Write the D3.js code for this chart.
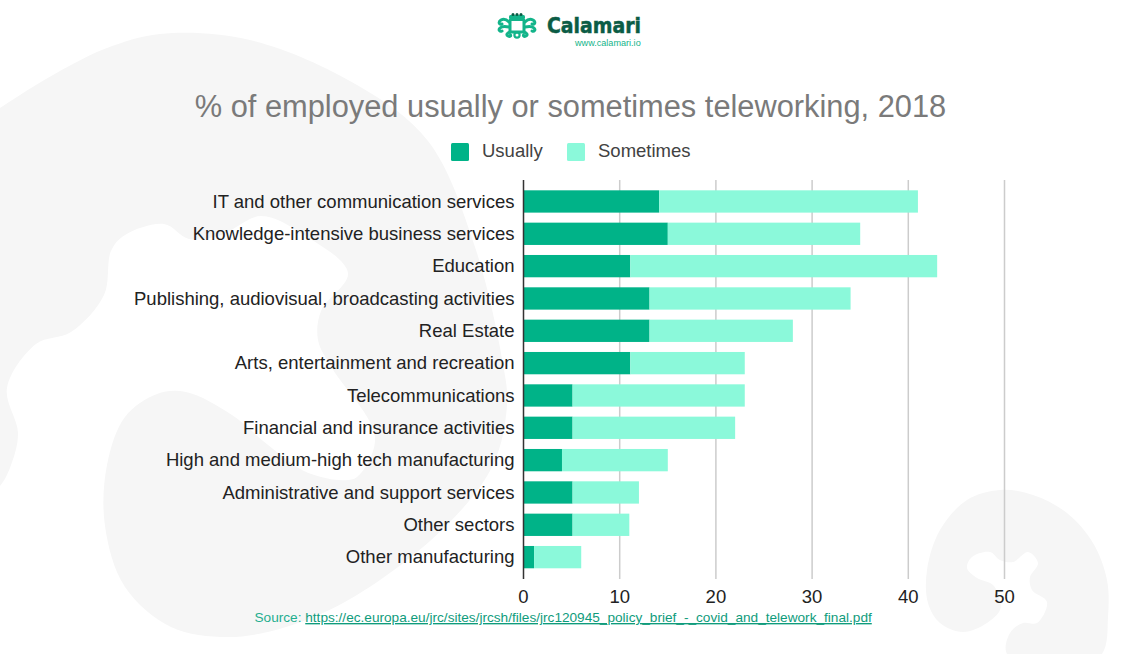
<!DOCTYPE html>
<html>
<head>
<meta charset="utf-8">
<script src="https://cdn.jsdelivr.net/npm/d3@7"></script>
<style>
  html, body { margin: 0; padding: 0; background: #fff; overflow: hidden; }
  svg { display: block; font-family: "Liberation Sans", Arial, sans-serif; }
</style>
</head>
<body>
<svg id="chart" width="1123" height="654"></svg>
<script>
const categories = [
  "IT and other communication services",
  "Knowledge-intensive business services",
  "Education",
  "Publishing, audiovisual, broadcasting activities",
  "Real Estate",
  "Arts, entertainment and recreation",
  "Telecommunications",
  "Financial and insurance activities",
  "High and medium-high tech manufacturing",
  "Administrative and support services",
  "Other sectors",
  "Other manufacturing"
];
const usually = [14.1, 15, 11.1, 13.1, 13.1, 11.1, 5.1, 5.1, 4, 5.1, 5.1, 1.1];
const sometimes = [26.9, 20, 31.9, 20.9, 14.9, 11.9, 17.9, 16.9, 11, 6.9, 5.9, 4.9];
const xTicks = [0, 10, 20, 30, 40, 50];
const seriesNames = ["Usually", "Sometimes"];
const seriesColors = ["#00b388", "#8bf9da"];

const svg = d3.select("#chart");

// decorative background blobs
const bigBlob = [[-30,128],[0,108],[36,85],[71,65],[107,48],[160,34],[250,40],[357,85],[428,141],[475,247],[503,364],[507,405],[493,465],[446,526],[357,595],[286,627],[228,637],[171,627],[125,587],[105,526],[107,465],[125,417],[157,394],[186,392],[232,415],[268,445],[304,471],[339,480],[357,477],[375,437],[332,368],[318,340],[321,311],[348,273],[304,235],[261,216],[221,235],[189,239],[164,224],[125,235],[111,251],[104,295],[71,332],[36,344],[7,388],[18,433],[11,465],[0,486],[-30,510]];
const rightBlob = [[1000,610],[987,623],[963,632],[940,623],[928,603],[927,570],[940,530],[967,500],[1000,490],[1033,495],[1067,513],[1093,543],[1107,580],[1108,617],[1102,654],[1060,680],[1007,654],[1010,633],[1023,623],[1037,623],[1047,602],[1032,590],[1030,577],[1038,563],[1028,552],[1013,562],[1000,560],[990,552],[972,557],[967,568],[977,578],[993,585],[1000,600]];
const blobLine = d3.line().curve(d3.curveCatmullRomClosed.alpha(0.5));
svg.append("g").attr("fill", "#f6f6f6").selectAll("path")
  .data([bigBlob, rightBlob]).join("path")
  .attr("d", d => blobLine(d));

// logo
const logo = svg.append("g").attr("transform", "translate(517,26)");
const tentacles = logo.append("g").attr("fill", "none").attr("stroke", "#13b48a").attr("stroke-width", 3).attr("stroke-linecap", "round");
[1, -1].forEach(s => {
  const t = tentacles.append("g").attr("transform", `scale(${s},1)`);
  t.append("path").attr("d", "M8,-4 C11,-7 14,-7 16,-6 C19,-4 18,-1 15,-2");
  t.append("path").attr("d", "M8,1 C12,0 15,0 17,2 C19,4 17,6 15,5");
  t.append("path").attr("d", "M7,6 C10,7 11,9 9,10 C7,11 6,10 6.5,9");
});
logo.append("rect").attr("x", -7).attr("y", -6.5).attr("width", 14).attr("height", 12.5).attr("rx", 1)
  .attr("fill", "#fff").attr("stroke", "#13b48a").attr("stroke-width", 3);
logo.append("rect").attr("x", -8).attr("y", -11).attr("width", 16).attr("height", 4).attr("rx", 1.5).attr("fill", "#13b48a");
logo.append("g").attr("fill", "#0b5c45").selectAll("circle").data([-4, 0, 4]).join("circle")
  .attr("cx", d => d).attr("cy", -11.5).attr("r", 1.5);
logo.append("circle").attr("cx", 0).attr("cy", 9).attr("r", 2.6).attr("fill", "none").attr("stroke", "#13b48a").attr("stroke-width", 2.2);

svg.append("text").attr("x", 547).attr("y", 33).attr("font-size", 21).attr("font-weight", "bold")
  .attr("font-family", "'DejaVu Sans', sans-serif")
  .attr("textLength", 94).attr("lengthAdjust", "spacingAndGlyphs")
  .attr("stroke", "#0b5c45").attr("stroke-width", 0.5)
  .attr("fill", "#0b5c45").text("Calamari");
svg.append("text").attr("x", 575).attr("y", 45.5).attr("font-size", 9.1).attr("fill", "#13b48a").text("www.calamari.io");

// title
svg.append("text").attr("x", 570.5).attr("y", 117).attr("text-anchor", "middle")
  .attr("font-size", 30.8).attr("fill", "#7a7a7a")
  .text("% of employed usually or sometimes teleworking, 2018");

// legend
const legendX = [451, 567];
const legendLabelX = [482, 598];
seriesNames.forEach((name, i) => {
  svg.append("rect").attr("x", legendX[i]).attr("y", 143).attr("width", 18).attr("height", 18)
    .attr("rx", 1.5).attr("fill", seriesColors[i]);
  svg.append("text").attr("x", legendLabelX[i]).attr("y", 157).attr("font-size", 18.5)
    .attr("fill", "#424242").text(name);
});

// scales
const x = d3.scaleLinear().domain([0, 50]).range([523.5, 1004.5]);
const y = d3.scaleBand().domain(categories).range([185.3, 573.3]).paddingInner(0.31).paddingOuter(0.155);

// gridlines
svg.append("g").selectAll("line").data(xTicks.slice(1)).join("line")
  .attr("x1", d => x(d)).attr("x2", d => x(d))
  .attr("y1", 180).attr("y2", 579)
  .attr("stroke", "#cccccc").attr("stroke-width", 1.5);

// stacked bars
const rows = categories.map((c, i) => ({ name: c, Usually: usually[i], Sometimes: sometimes[i] }));
const stacked = d3.stack().keys(seriesNames)(rows);
svg.append("g").selectAll("g").data(stacked).join("g")
  .attr("fill", (d, i) => seriesColors[i])
  .selectAll("rect").data(d => d).join("rect")
  .attr("x", d => x(d[0]))
  .attr("y", d => y(d.data.name))
  .attr("width", d => x(d[1]) - x(d[0]))
  .attr("height", y.bandwidth());

// zero line
svg.append("line").attr("x1", x(0)).attr("x2", x(0)).attr("y1", 180).attr("y2", 579)
  .attr("stroke", "#333333").attr("stroke-width", 1.5);

// category labels
svg.append("g").selectAll("text").data(categories).join("text")
  .attr("x", 514.5)
  .attr("y", d => y(d) + y.bandwidth() / 2 + 6.2)
  .attr("text-anchor", "end")
  .attr("font-size", 18.5)
  .attr("fill", "#222222")
  .text(d => d);

// x tick labels
svg.append("g").selectAll("text").data(xTicks).join("text")
  .attr("x", d => x(d))
  .attr("y", 603)
  .attr("text-anchor", "middle")
  .attr("font-size", 18.5)
  .attr("fill", "#222222")
  .text(d => d);

// source
const source = svg.append("text").attr("x", 254.5).attr("y", 622).attr("font-size", 13.63).attr("fill", "#1fae8f");
source.append("tspan").text("Source: ");
source.append("tspan").attr("text-decoration", "underline").attr("fill", "#0f9c7c")
  .text("https://ec.europa.eu/jrc/sites/jrcsh/files/jrc120945_policy_brief_-_covid_and_telework_final.pdf");
</script>
</body>
</html>
